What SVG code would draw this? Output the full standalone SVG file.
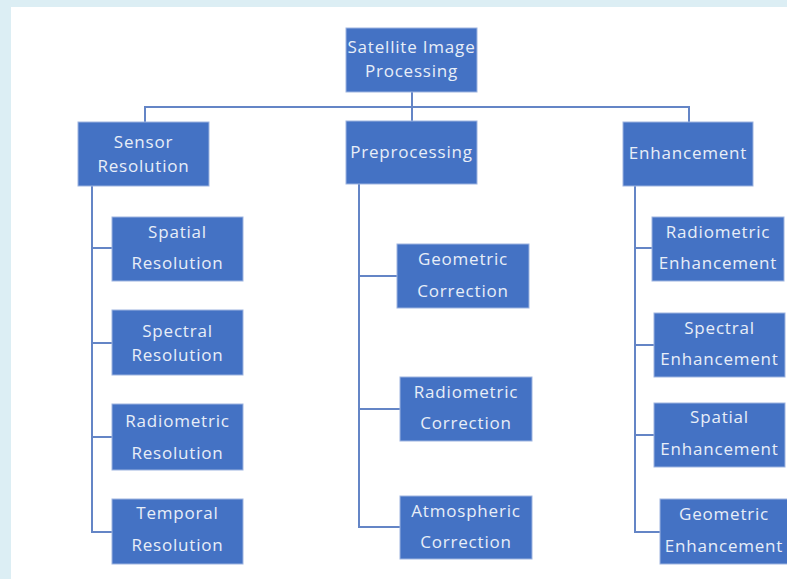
<svg xmlns="http://www.w3.org/2000/svg" width="787" height="579" viewBox="0 0 787 579">
<style>
.box{fill:#4472C4;stroke:#9DB4E0;stroke-width:1}
.t{font-family:"Open Sans","Noto Sans",sans-serif;font-size:17px;letter-spacing:0.8px;fill:#E8EEF8;text-anchor:middle}
.c{fill:none;stroke:#6485C6;stroke-width:2}
</style>
<rect x="0" y="0" width="787" height="579" fill="#DCEEF4"/>
<rect x="11" y="7" width="776" height="572" fill="#FFFFFF"/>
<g id="connectors">
<path class="c" d="M412 92V121M145 122V107H689V122"/>
<path class="c" d="M92 186V532H112M92 248H112M92 343H112M92 437H112"/>
<path class="c" d="M359 184V527H400M359 276H397M359 409H400"/>
<path class="c" d="M635 186V532H660M635 248H652M635 345H654M635 435H654"/>
</g>
<g id="root"><rect class="box" x="346" y="28" width="131" height="64"/><text class="t" x="411.5" y="53">Satellite Image</text><text class="t" x="411.5" y="77">Processing</text></g>
<g id="sensor"><rect class="box" x="78" y="122" width="131" height="64"/><text class="t" x="143.5" y="148">Sensor</text><text class="t" x="143.5" y="172">Resolution</text></g>
<g id="preprocessing"><rect class="box" x="346" y="121" width="131" height="63"/><text class="t" x="411.5" y="158">Preprocessing</text></g>
<g id="enhancement"><rect class="box" x="623" y="122" width="130" height="64"/><text class="t" x="688" y="159">Enhancement</text></g>
<g id="spatial-res"><rect class="box" x="112" y="217" width="131" height="64"/><text class="t" x="177.5" y="238">Spatial</text><text class="t" x="177.5" y="269">Resolution</text></g>
<g id="spectral-res"><rect class="box" x="112" y="310" width="131" height="65"/><text class="t" x="177.5" y="337">Spectral</text><text class="t" x="177.5" y="361">Resolution</text></g>
<g id="radiometric-res"><rect class="box" x="112" y="404" width="131" height="66"/><text class="t" x="177.5" y="427">Radiometric</text><text class="t" x="177.5" y="459">Resolution</text></g>
<g id="temporal-res"><rect class="box" x="112" y="499" width="131" height="65"/><text class="t" x="177.5" y="519">Temporal</text><text class="t" x="177.5" y="551">Resolution</text></g>
<g id="geometric-corr"><rect class="box" x="397" y="244" width="132" height="64"/><text class="t" x="463" y="265">Geometric</text><text class="t" x="463" y="297">Correction</text></g>
<g id="radiometric-corr"><rect class="box" x="400" y="377" width="132" height="64"/><text class="t" x="466" y="398">Radiometric</text><text class="t" x="466" y="429">Correction</text></g>
<g id="atmospheric-corr"><rect class="box" x="400" y="496" width="132" height="63"/><text class="t" x="466" y="517">Atmospheric</text><text class="t" x="466" y="548">Correction</text></g>
<g id="radiometric-enh"><rect class="box" x="652" y="217" width="132" height="64"/><text class="t" x="718" y="238">Radiometric</text><text class="t" x="718" y="269">Enhancement</text></g>
<g id="spectral-enh"><rect class="box" x="654" y="313" width="131" height="64"/><text class="t" x="719.5" y="334">Spectral</text><text class="t" x="719.5" y="365">Enhancement</text></g>
<g id="spatial-enh"><rect class="box" x="654" y="403" width="131" height="64"/><text class="t" x="719.5" y="423">Spatial</text><text class="t" x="719.5" y="455">Enhancement</text></g>
<g id="geometric-enh"><rect class="box" x="660" y="499" width="128" height="65"/><text class="t" x="724" y="520">Geometric</text><text class="t" x="724" y="552">Enhancement</text></g>
</svg>
